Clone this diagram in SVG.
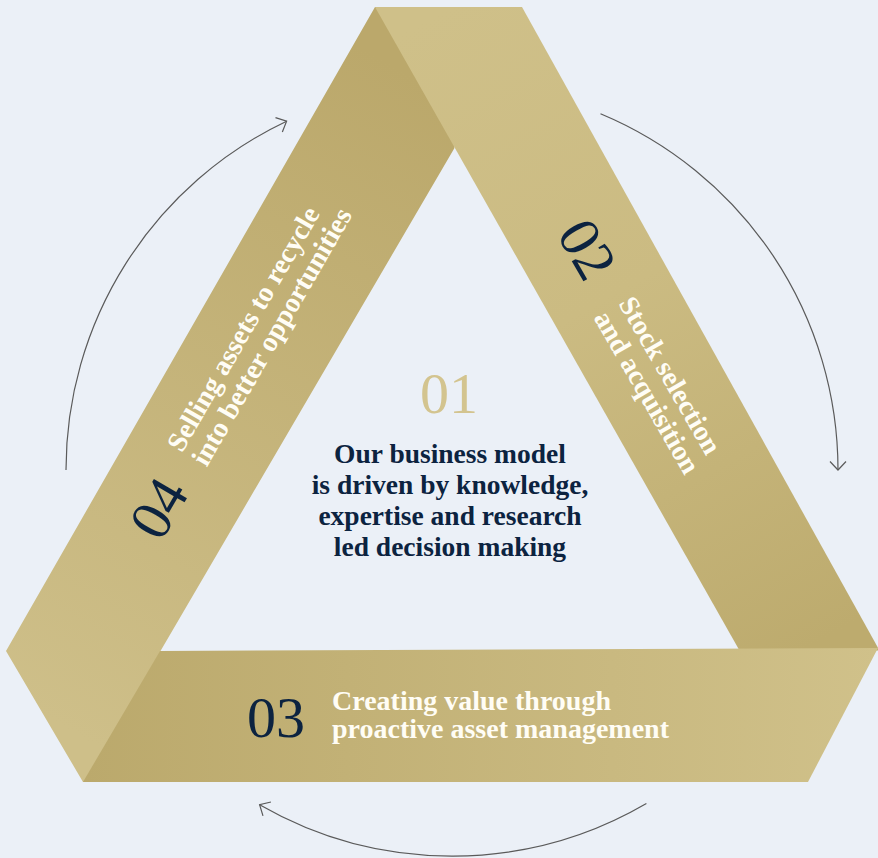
<svg xmlns="http://www.w3.org/2000/svg" width="878" height="858" viewBox="0 0 878 858">
  <defs>
    <linearGradient id="gRight" gradientUnits="userSpaceOnUse" x1="450" y1="7" x2="808" y2="648">
      <stop offset="0" stop-color="#cfc089"/>
      <stop offset="0.45" stop-color="#cbbb82"/>
      <stop offset="1" stop-color="#bdab6e"/>
    </linearGradient>
    <linearGradient id="gLeft" gradientUnits="userSpaceOnUse" x1="415" y1="78" x2="45" y2="716">
      <stop offset="0" stop-color="#bba86b"/>
      <stop offset="1" stop-color="#cebf89"/>
    </linearGradient>
    <linearGradient id="gBottom" gradientUnits="userSpaceOnUse" x1="83" y1="715" x2="878" y2="715">
      <stop offset="0" stop-color="#bba96c"/>
      <stop offset="1" stop-color="#d0c18a"/>
    </linearGradient>
    <marker id="arr" markerUnits="userSpaceOnUse" markerWidth="24" markerHeight="24" viewBox="-12 -12 24 24" refX="0" refY="0" orient="auto" overflow="visible">
      <path d="M-8.5,-8 L0,0 L-8.5,8" fill="none" stroke="#5a5a5a" stroke-width="1.2" stroke-linejoin="miter"/>
    </marker>
  </defs>
  <style>
    .bg { fill: #ebf0f7; }
    .num { font-family: "Liberation Serif", "DejaVu Serif", serif; font-size: 58px; fill: #0c2340; }
    .lbl { font-family: "Liberation Serif", "DejaVu Serif", serif; font-weight: bold; font-size: 28px; fill: #fffdf5; }
    .center { font-family: "Liberation Serif", "DejaVu Serif", serif; font-weight: bold; font-size: 27.5px; fill: #0c2340; text-anchor: middle; }
    .conn { fill: none; stroke: #5a5a5a; stroke-width: 1.2; }
  </style>

  <rect class="bg" x="0" y="0" width="878" height="858"/>

  <g id="node-04">
    <polygon points="375,7 430,7 454.5,148 160.5,651 120,782 83,782 6,651" fill="url(#gLeft)"/>
    <text class="num" transform="translate(161,543) rotate(-60)">04</text>
    <text class="lbl" transform="translate(182,453.5) rotate(-60)"><tspan x="0" y="0">Selling assets to recycle</tspan><tspan x="0" y="28.5">into better opportunities</tspan></text>
  </g>

  <g id="node-02">
    <polygon points="375,7 522,7 879.5,650.5 739.5,650.5" fill="url(#gRight)"/>
    <text class="num" transform="translate(556,234) rotate(60)">02</text>
    <text class="lbl" transform="translate(618,303.5) rotate(60)"><tspan x="0" y="0">Stock selection</tspan><tspan x="0" y="28.5">and acquisition</tspan></text>
  </g>

  <g id="node-03">
    <polygon points="160,651 878,648 808,782 83,782" fill="url(#gBottom)"/>
    <text class="num" x="247" y="737">03</text>
    <text class="lbl" x="332" y="710">Creating value through</text>
    <text class="lbl" x="332" y="738">proactive asset management</text>
  </g>

  <g id="node-01">
    <text x="449" y="413" text-anchor="middle" style="font-family: 'Liberation Serif', 'DejaVu Serif', serif; font-size: 58px; fill: #d3c48f;">01</text>
    <text class="center" x="450" y="463">Our business model</text>
    <text class="center" x="450" y="494">is driven by knowledge,</text>
    <text class="center" x="450" y="525">expertise and research</text>
    <text class="center" x="450" y="556">led decision making</text>
  </g>

  <g id="connectors">
    <path class="conn" d="M66,470 A386,386 0 0 1 286.6,121.2" marker-end="url(#arr)"/>
    <path class="conn" d="M600.5,113.7 A386,386 0 0 1 838,470" marker-end="url(#arr)"/>
    <path class="conn" d="M646.4,803.5 A386,386 0 0 1 259.6,804.7" marker-end="url(#arr)"/>
  </g>
</svg>
